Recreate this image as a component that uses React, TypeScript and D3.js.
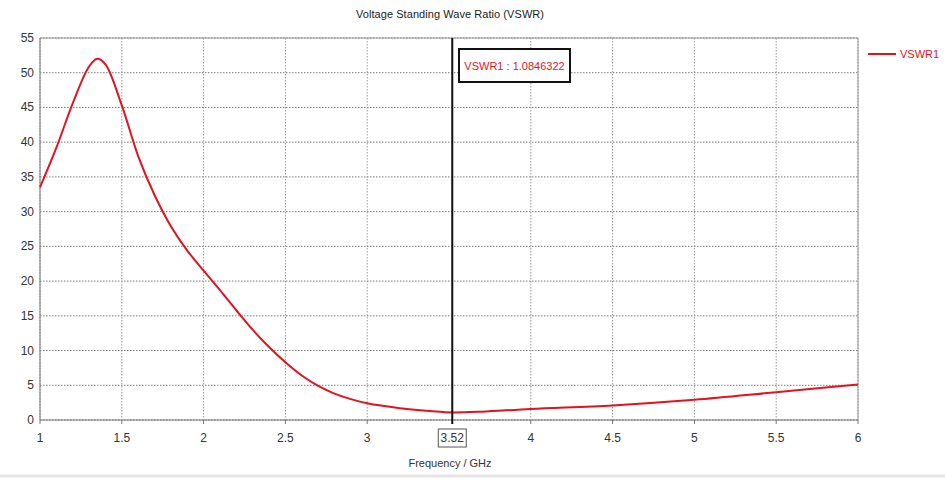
import React from 'react';
import * as d3 from 'd3';

const freqs = [1.0, 1.1, 1.2, 1.3, 1.35, 1.4, 1.5, 1.6, 1.7, 1.8, 1.9, 2.0, 2.1, 2.2, 2.3, 2.4, 2.5, 2.6, 2.7, 2.8, 2.9, 3.0, 3.2, 3.4, 3.52, 3.7, 4.0, 4.5, 5.0, 5.5, 6.0];
const vswr = [33.5, 39.2, 45.6, 50.9, 52, 51.2, 45.3, 38, 32.4, 27.9, 24.4, 21.5, 18.7, 15.8, 13.0, 10.5, 8.3, 6.4, 4.9, 3.8, 3.0, 2.4, 1.7, 1.25, 1.08, 1.2, 1.6, 2.1, 2.9, 4.0, 5.1];
const xTicks = [1, 1.5, 2, 2.5, 3, 4, 4.5, 5, 5.5, 6];
const yTicks = [0, 5, 10, 15, 20, 25, 30, 35, 40, 45, 50, 55];
const markerX = 3.52;
const markerText = 'VSWR1 : 1.0846322';
const seriesName = 'VSWR1';

const W = 945;
const H = 479;
const font = "'Liberation Sans', Arial, sans-serif";

export default function App() {
  const x = d3.scaleLinear().domain([1, 6]).range([40, 858]);
  const y = d3.scaleLinear().domain([0, 55]).range([420, 38]);
  const points = freqs.map((f, i) => [f, vswr[i]] as [number, number]);
  const line = d3
    .line<[number, number]>()
    .x(d => x(d[0]))
    .y(d => y(d[1]))
    .curve(d3.curveCatmullRom.alpha(0.5));
  const mx = x(markerX);

  return (
    <svg width={W} height={H} style={{ position: 'absolute', left: 0, top: 0, background: '#fff' }}>
      <rect width={W} height={H} fill="#fff" />
      <text x={450} y={18} textAnchor="middle" fontFamily={font} fontSize={11} fill="#222" textLength={188}>
        Voltage Standing Wave Ratio (VSWR)
      </text>

      {/* grid */}
      {yTicks.map(t => (
        <line key={'gy' + t} x1={40} x2={858} y1={y(t)} y2={y(t)} stroke="#7a7a7a" strokeDasharray="1.5,1.5" strokeWidth={1} />
      ))}
      {[...xTicks, markerX].map(t => (
        <line key={'gx' + t} x1={x(t)} x2={x(t)} y1={38} y2={420} stroke="#9a9a9a" strokeDasharray="1.5,1.5" strokeWidth={1} />
      ))}
      <line x1={40} x2={858} y1={38} y2={38} stroke="#999" />
      <line x1={858} x2={858} y1={38} y2={420} stroke="#999" />
      <line x1={40} x2={858} y1={420} y2={420} stroke="#777" />
      <line x1={40} x2={40} y1={38} y2={420} stroke="#777" />

      {/* y tick labels */}
      {yTicks.map(t => (
        <text key={'ty' + t} x={34} y={y(t) + 4} textAnchor="end" fontFamily={font} fontSize={12} fill="#333">
          {t}
        </text>
      ))}
      {/* x tick labels */}
      {xTicks.map(t => (
        <g key={'tx' + t}>
          <line x1={x(t)} x2={x(t)} y1={420} y2={424} stroke="#777" />
          <text x={x(t)} y={442} textAnchor="middle" fontFamily={font} fontSize={12} fill="#333">
            {t}
          </text>
        </g>
      ))}
      <rect x={mx - 14} y={429} width={28} height={18} fill="#fff" stroke="#555" />
      <text x={mx} y={442} textAnchor="middle" fontFamily={font} fontSize={12} fill="#333">
        {markerX}
      </text>
      <text x={450} y={467} textAnchor="middle" fontFamily={font} fontSize={11} fill="#333">
        Frequency / GHz
      </text>

      {/* curve */}
      <path d={line(points) ?? ''} fill="none" stroke="#e3131e" strokeWidth={2} />

      {/* marker */}
      <line x1={mx} x2={mx} y1={38} y2={424} stroke="#111" strokeWidth={2} />
      <rect x={459} y={49} width={111} height={33} fill="#fff" stroke="#111" strokeWidth={2} />
      <text x={514.5} y={70} textAnchor="middle" fontFamily={font} fontSize={11} fill="#e3131e">
        {markerText}
      </text>

      {/* legend */}
      <line x1={868} x2={896} y1={54} y2={54} stroke="#e3131e" strokeWidth={2} />
      <text x={900} y={58} fontFamily={font} fontSize={11} fill="#e3131e">
        {seriesName}
      </text>

      <line x1={0} x2={W} y1={476} y2={476} stroke="#e6e6e6" strokeWidth={3} />
    </svg>
  );
}
